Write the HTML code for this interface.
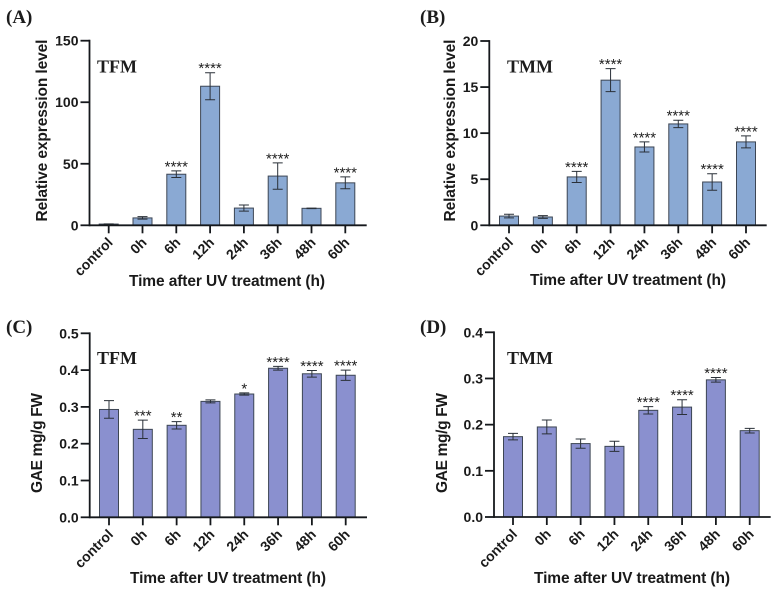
<!DOCTYPE html>
<html lang="en">
<head>
<meta charset="utf-8">
<title>Relative expression and GAE after UV treatment</title>
<style>
html,body{margin:0;padding:0;background:#fff;width:781px;height:592px;overflow:hidden}
svg{display:block;filter:blur(0.35px)}
text{font-family:"Liberation Sans",sans-serif;fill:#1a1a1a}
.serif{font-family:"Liberation Serif",serif;font-weight:bold;fill:#1c1c1c}
.tick{font-size:14px;font-weight:bold}
.title{font-size:15.5px;font-weight:bold}
.star{font-size:15px;font-weight:normal;text-anchor:middle;fill:#222}
</style>
</head>
<body>
<svg id="figure" xmlns="http://www.w3.org/2000/svg" width="781" height="592" viewBox="0 0 781 592"></svg>
<script>
const categories = ["control", "0h", "6h", "12h", "24h", "36h", "48h", "60h"];

const panelAValues = [1, 6, 41.5, 113, 14, 40, 13.8, 34.5];
const panelAErrors = [0.2, 1, 2.7, 11, 2.5, 10.7, 0.2, 4.8];
const panelAStars = ["", "", "****", "****", "", "****", "", "****"];
const panelATicks = ["0", "50", "100", "150"];
const panelATickValues = [0, 50, 100, 150];

const panelBValues = [1, 0.9, 5.25, 15.75, 8.5, 11, 4.7, 9.05];
const panelBErrors = [0.2, 0.15, 0.6, 1.25, 0.55, 0.4, 0.9, 0.65];
const panelBStars = ["", "", "****", "****", "****", "****", "****", "****"];
const panelBTicks = ["0", "5", "10", "15", "20"];
const panelBTickValues = [0, 5, 10, 15, 20];

const panelCValues = [0.293, 0.239, 0.25, 0.315, 0.335, 0.405, 0.39, 0.386];
const panelCErrors = [0.024, 0.025, 0.01, 0.004, 0.003, 0.005, 0.009, 0.014];
const panelCStars = ["", "***", "**", "", "*", "****", "****", "****"];
const panelCTicks = ["0.0", "0.1", "0.2", "0.3", "0.4", "0.5"];
const panelCTickValues = [0, 0.1, 0.2, 0.3, 0.4, 0.5];

const panelDValues = [0.174, 0.195, 0.159, 0.153, 0.231, 0.238, 0.297, 0.187];
const panelDErrors = [0.007, 0.015, 0.01, 0.011, 0.008, 0.016, 0.005, 0.005];
const panelDStars = ["", "", "", "", "****", "****", "****", ""];
const panelDTicks = ["0.0", "0.1", "0.2", "0.3", "0.4"];
const panelDTickValues = [0, 0.1, 0.2, 0.3, 0.4];

const NS = "http://www.w3.org/2000/svg";
const figure = document.getElementById("figure");

function el(tag, attrs, parent, text) {
  const node = document.createElementNS(NS, tag);
  for (const key in attrs) node.setAttribute(key, attrs[key]);
  if (text !== undefined) node.textContent = text;
  parent.appendChild(node);
  return node;
}

function drawPanel(p) {
  const g = el("g", {}, figure);
  
  

  const yMax = p.tickValues[p.tickValues.length - 1];
  const yScale = v => p.base - (v / yMax) * (p.base - p.top);
  const xScale = i => p.first + (i / (categories.length - 1)) * (p.last - p.first);
  const axisColor = "#15181c";

  const letter = el("text", {x: p.letterX, y: p.letterY, class: "serif", "font-size": 19}, g, "(" + p.id.toUpperCase() + ")");
  
  

  const species = el("text", {x: p.nameX, y: p.nameY, class: "serif", "font-size": 18}, g, p.species);
  
  

  categories.forEach((cat, i) => {
    const cx = xScale(i);
    const y = yScale(p.values[i]);
    const bar = el("rect", {x: cx - 9.5, y: y, width: 19, height: Math.max(p.base - y, 0), fill: p.fill, stroke: "#3d4654", "stroke-width": 1}, g);
    
    

    const top = yScale(p.values[i] + p.errors[i]);
    const bottom = yScale(p.values[i] - p.errors[i]);
    const err = el("path", {
      d: "M" + (cx - 5) + " " + top + "H" + (cx + 5) + "M" + cx + " " + top + "V" + bottom + "M" + (cx - 5) + " " + bottom + "H" + (cx + 5),
      fill: "none", stroke: "#2a3038", "stroke-width": 1
    }, g);
    
    

    if (p.stars[i]) {
      const star = el("text", {x: cx, y: top + 0.5, class: "star"}, g, p.stars[i]);
      
      
    }

    const tick = el("line", {x1: cx, x2: cx, y1: p.base, y2: p.base + 8, stroke: axisColor, "stroke-width": 1.8}, g);
    
    

    const lx = cx + 5;
    const ly = p.base + 18;
    const label = el("text", {x: lx, y: ly, class: "tick", "text-anchor": "end", transform: "rotate(-45 " + lx + " " + ly + ")"}, g, cat);
    
    
  });

  p.tickValues.forEach((v, i) => {
    const y = yScale(v);
    const tick = el("line", {x1: p.axisX - 9, x2: p.axisX, y1: y, y2: y, stroke: axisColor, "stroke-width": 1.8}, g);
    
    

    const label = el("text", {x: p.axisX - 11, y: y + 5, class: "tick", "text-anchor": "end"}, g, p.ticks[i]);
    
    
  });

  const yAxis = el("line", {x1: p.axisX, x2: p.axisX, y1: p.top - 0.9, y2: p.base + 0.9, stroke: axisColor, "stroke-width": 1.8}, g);
  
  

  const xAxis = el("line", {x1: p.axisX, x2: p.right, y1: p.base, y2: p.base, stroke: axisColor, "stroke-width": 1.8}, g);
  
  

  const xTitle = el("text", {x: p.xTitleX, y: p.xTitleY, class: "title", "text-anchor": "middle", textLength: 196, lengthAdjust: "spacing"}, g, "Time after UV treatment (h)");
  
  

  const yTitle = el("text", {x: p.yTitleX, y: p.yTitleY, class: "title", "text-anchor": "middle", textLength: p.yTitleLen, lengthAdjust: "spacing", transform: "rotate(-90 " + p.yTitleX + " " + p.yTitleY + ")"}, g, p.yTitle);
  
  
}

const blueFill = "#8aa9d3";
const purpleFill = "#8a90cf";

drawPanel({id: "a", species: "TFM", values: panelAValues, errors: panelAErrors, stars: panelAStars, ticks: panelATicks, tickValues: panelATickValues,
  fill: blueFill, axisX: 89.5, top: 40.7, base: 225.3, right: 366.7, first: 108.7, last: 345.3,
  letterX: 6, letterY: 23, nameX: 97, nameY: 72.7, xTitleX: 227, xTitleY: 286, yTitleX: 47, yTitleY: 130.5, yTitleLen: 182, yTitle: "Relative expression level"});

drawPanel({id: "b", species: "TMM", values: panelBValues, errors: panelBErrors, stars: panelBStars, ticks: panelBTicks, tickValues: panelBTickValues,
  fill: blueFill, axisX: 489.3, top: 41, base: 225.3, right: 766.7, first: 509, last: 746,
  letterX: 420, letterY: 23, nameX: 507, nameY: 72.7, xTitleX: 628, xTitleY: 285, yTitleX: 455, yTitleY: 130.5, yTitleLen: 182, yTitle: "Relative expression level"});

drawPanel({id: "c", species: "TFM", values: panelCValues, errors: panelCErrors, stars: panelCStars, ticks: panelCTicks, tickValues: panelCTickValues,
  fill: purpleFill, axisX: 89.7, top: 333.3, base: 517.3, right: 367, first: 109, last: 345.7,
  letterX: 6, letterY: 333, nameX: 97, nameY: 364, xTitleX: 228, xTitleY: 583, yTitleX: 42, yTitleY: 443, yTitleLen: 100, yTitle: "GAE mg/g FW"});

drawPanel({id: "d", species: "TMM", values: panelDValues, errors: panelDErrors, stars: panelDStars, ticks: panelDTicks, tickValues: panelDTickValues,
  fill: purpleFill, axisX: 494, top: 332.3, base: 517, right: 770.7, first: 513, last: 749.7,
  letterX: 420, letterY: 333, nameX: 507, nameY: 364, xTitleX: 632, xTitleY: 583, yTitleX: 447, yTitleY: 443, yTitleLen: 100, yTitle: "GAE mg/g FW"});
</script>
</body>
</html>
